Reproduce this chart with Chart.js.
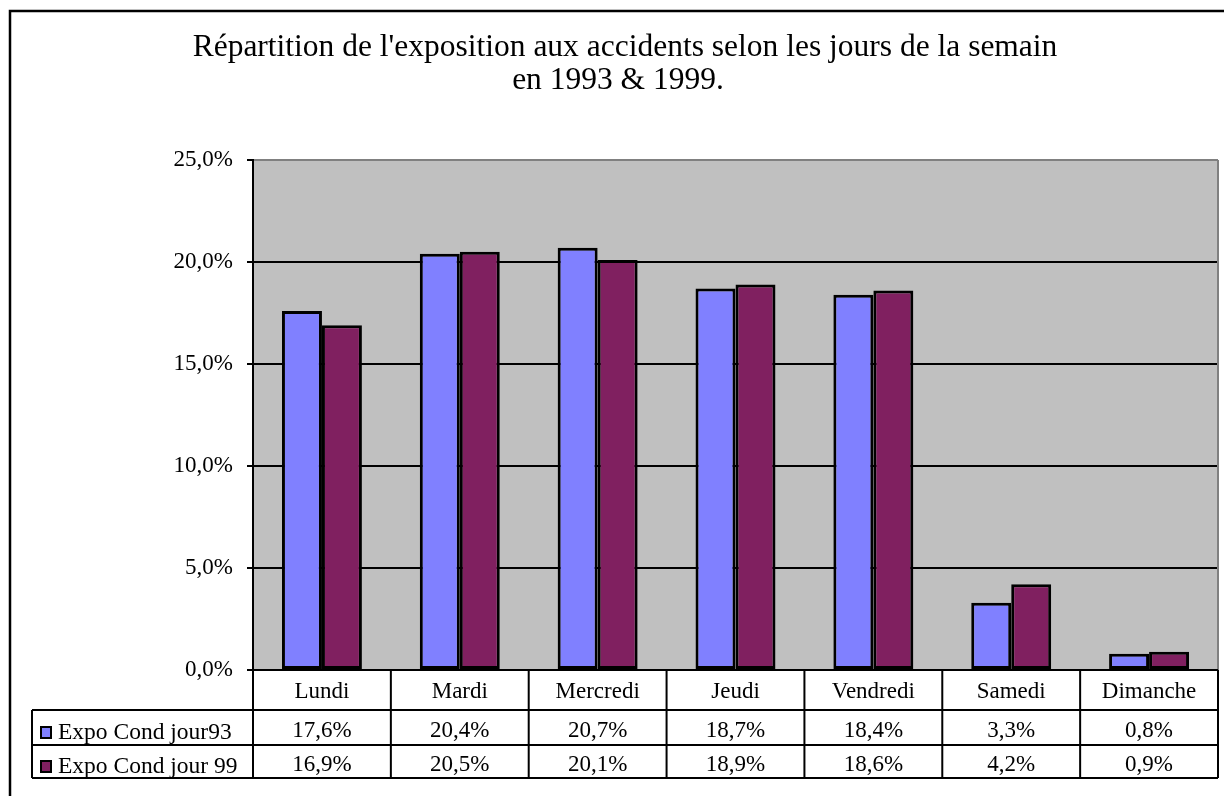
<!DOCTYPE html>
<html>
<head>
<meta charset="utf-8">
<script src="https://cdn.jsdelivr.net/npm/chart.js@4/dist/chart.umd.min.js"></script>
<style>
  html, body { margin: 0; padding: 0; background: #fff; }
  canvas { display: block; }
</style>
</head>
<body>
<canvas id="graphique" width="1224" height="796"></canvas>
<script>
// données
const jours = ["Lundi", "Mardi", "Mercredi", "Jeudi", "Vendredi", "Samedi", "Dimanche"];
const expo93 = [17.6, 20.4, 20.7, 18.7, 18.4, 3.3, 0.8];
const expo99 = [16.9, 20.5, 20.1, 18.9, 18.6, 4.2, 0.9];
const nomsSeries = ["Expo Cond jour93", "Expo Cond jour 99"];
const titre = [
  "Répartition de l'exposition aux accidents selon les jours de la semain",
  "en 1993 & 1999.",
];
const yMax = 25;
const yPas = 5;

const POLICE = "'Liberation Serif', 'Times New Roman', serif";
const couleurs = ["#8080FF", "#802060"];

function pct(v) {
  return v.toFixed(1).replace(".", ",") + "%";
}

// fond gris de la zone de tracé + tableau de données sous l'axe
const fondEtTableau = {
  id: "fondEtTableau",
  beforeDraw(chart) {
    const { ctx, chartArea: a } = chart;
    ctx.save();
    ctx.fillStyle = "#fff";
    ctx.fillRect(0, 0, chart.width, chart.height);
    ctx.fillStyle = "#C0C0C0";
    ctx.fillRect(a.left, a.top, a.right - a.left, a.bottom - a.top);
    ctx.restore();
  },
  afterDraw(chart) {
    const { ctx, chartArea: a } = chart;
    const x = chart.scales.x;
    ctx.save();

    // bord droit de la zone de tracé
    ctx.strokeStyle = "#808080";
    ctx.lineWidth = 2;
    ctx.beginPath();
    ctx.moveTo(a.right, a.top);
    ctx.lineTo(a.right, a.bottom);
    ctx.stroke();

    // cadre extérieur
    ctx.strokeStyle = "#000";
    ctx.lineWidth = 2.5;
    ctx.strokeRect(10, 11, chart.width + 20, chart.height + 20);

    // titre
    ctx.fillStyle = "#000";
    ctx.font = "31.5px " + POLICE;
    ctx.textAlign = "center";
    ctx.textBaseline = "alphabetic";
    ctx.fillText(titre[0], 625, 56);
    ctx.fillText(titre[1], 618, 89);

    // tableau
    const ligneHaut = a.bottom;
    const lignes = [710, 745, 778];
    const gaucheLegende = 32;
    const largeurCat = (a.right - a.left) / jours.length;

    ctx.strokeStyle = "#000";
    ctx.lineWidth = 2;
    ctx.beginPath();
    ctx.moveTo(a.left, ligneHaut);
    ctx.lineTo(a.right, ligneHaut);
    lignes.forEach((y) => {
      ctx.moveTo(gaucheLegende, y);
      ctx.lineTo(a.right, y);
    });
    ctx.moveTo(gaucheLegende, lignes[0]);
    ctx.lineTo(gaucheLegende, lignes[2]);
    for (let i = 0; i <= jours.length; i++) {
      const xx = i < jours.length ? x.getPixelForValue(i) - largeurCat / 2 : a.right;
      ctx.moveTo(xx, ligneHaut);
      ctx.lineTo(xx, lignes[2]);
    }
    ctx.stroke();

    ctx.font = "23px " + POLICE;
    ctx.textAlign = "center";
    jours.forEach((j, i) => {
      const cx = x.getPixelForValue(i);
      ctx.fillText(j, cx, 698);
      ctx.fillText(pct(expo93[i]), cx, 737);
      ctx.fillText(pct(expo99[i]), cx, 771);
    });

    // légende dans le tableau
    const basesLegende = [739, 773];
    ctx.textAlign = "left";
    ctx.font = "23.5px " + POLICE;
    nomsSeries.forEach((nom, k) => {
      const yb = basesLegende[k];
      ctx.fillStyle = couleurs[k];
      ctx.fillRect(41, yb - 12, 10, 11);
      ctx.strokeStyle = "#000";
      ctx.lineWidth = 2;
      ctx.strokeRect(41, yb - 12, 10, 11);
      ctx.fillStyle = "#000";
      ctx.fillText(nom, 58, yb);
    });

    ctx.restore();
  },
};

new Chart(document.getElementById("graphique"), {
  type: "bar",
  data: {
    labels: jours,
    datasets: [
      {
        label: nomsSeries[0],
        data: expo93,
        backgroundColor: couleurs[0],
      },
      {
        label: nomsSeries[1],
        data: expo99,
        backgroundColor: couleurs[1],
      },
    ],
  },
  options: {
    responsive: false,
    animation: false,
    devicePixelRatio: 1,
    layout: { padding: { top: 160, right: 6, bottom: 126, left: 0 } },
    datasets: {
      bar: {
        borderColor: "#000",
        borderWidth: 3,
        borderSkipped: false,
        barPercentage: 1,
        categoryPercentage: 0.58,
      },
    },
    plugins: {
      legend: { display: false },
      title: { display: false },
      tooltip: { enabled: false },
    },
    scales: {
      x: { display: false },
      y: {
        min: 0,
        max: yMax,
        afterFit(scale) {
          scale.width = 253;
        },
        ticks: {
          stepSize: yPas,
          color: "#000",
          padding: 14,
          font: { family: POLICE, size: 23 },
          callback: (v) => pct(v),
        },
        grid: {
          color: (c) => (c.tick && c.tick.value === yMax ? "#808080" : "#000"),
          lineWidth: 2,
          tickLength: 6,
          tickColor: "#000",
        },
        border: { color: "#000", width: 2 },
      },
    },
  },
  plugins: [fondEtTableau],
});
</script>
</body>
</html>
